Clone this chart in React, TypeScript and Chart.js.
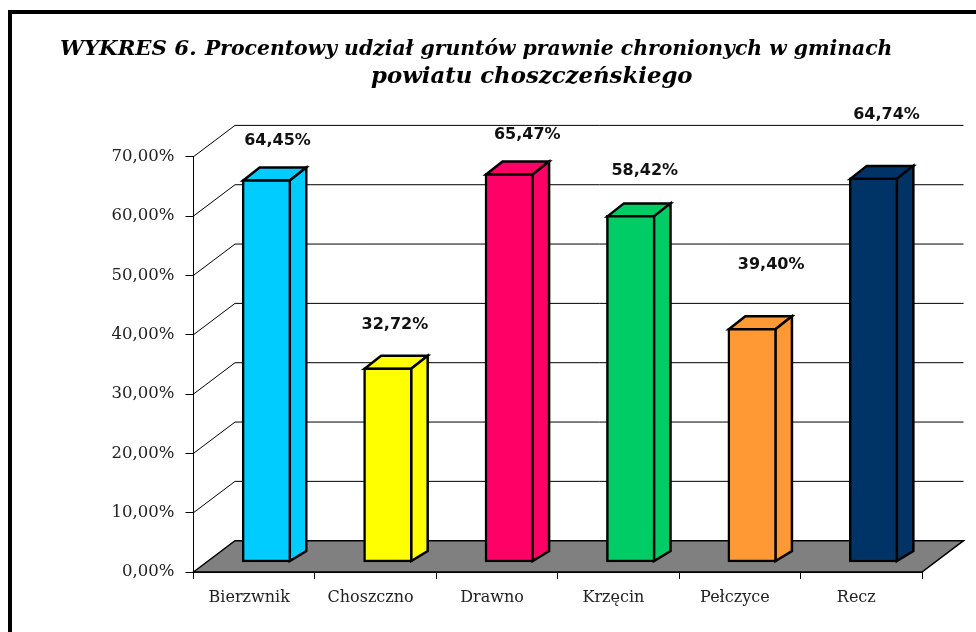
import React, { useEffect, useRef } from "react";
import { Chart, registerables } from "chart.js";

Chart.register(...registerables);

const categories = ["Bierzwnik", "Choszczno", "Drawno", "Krzęcin", "Pełczyce", "Recz"];
const percentages = [64.45, 32.72, 65.47, 58.42, 39.4, 64.74];
const barColors = ["#00CCFF", "#FFFF00", "#FF0066", "#00CC66", "#FF9933", "#003366"];
const titleLead = "WYKRES 6.";
const titleRest = "Procentowy udział gruntów prawnie chronionych w gminach";
const titleSecond = "powiatu choszczeńskiego";

const WALL_DX = 41.5;
const WALL_DY = 31.3;
const BAR_DX = 16.5;
const BAR_DY = 13;
const labelNudgeX = [11, 7, 18, 14, 19, 13];
const labelNudgeY = [-39, -43, -39, -45, -63, -63];

const fmt = (v: number) => v.toFixed(2).replace(".", ",") + "%";

const scene = {
  id: "scene",
  beforeDatasetsDraw(chart: any) {
    const { ctx } = chart;
    const y = chart.scales.y;
    const x = chart.scales.x;
    const L = x.left;
    const R = x.right;
    ctx.save();
    ctx.strokeStyle = "#000";
    ctx.lineWidth = 1;
    y.ticks.forEach((t: any) => {
      if (t.value === 0) return;
      const py = y.getPixelForValue(t.value);
      ctx.beginPath();
      ctx.moveTo(L, py);
      ctx.lineTo(L + WALL_DX, py - WALL_DY);
      ctx.lineTo(R + WALL_DX, py - WALL_DY);
      ctx.stroke();
    });
    const fy = y.getPixelForValue(0);
    ctx.beginPath();
    ctx.moveTo(L, fy);
    ctx.lineTo(L + WALL_DX, fy - WALL_DY);
    ctx.lineTo(R + WALL_DX, fy - WALL_DY);
    ctx.lineTo(R, fy);
    ctx.closePath();
    ctx.fillStyle = "#808080";
    ctx.fill();
    ctx.lineWidth = 1.5;
    ctx.stroke();

    ctx.lineWidth = 2.5;
    ctx.lineJoin = "miter";
    chart.getDatasetMeta(0).data.forEach((bar: any, i: number) => {
      const { x: cx, y: top, base, width } = bar.getProps(["x", "y", "base", "width"], true);
      const l = cx - width / 2 + 1;
      const r = cx + width / 2 - 1;
      ctx.fillStyle = barColors[i];
      ctx.beginPath();
      ctx.moveTo(l, top + 1);
      ctx.lineTo(l + BAR_DX, top + 1 - BAR_DY);
      ctx.lineTo(r + BAR_DX, top + 1 - BAR_DY);
      ctx.lineTo(r, top + 1);
      ctx.closePath();
      ctx.fill();
      ctx.stroke();
      ctx.beginPath();
      ctx.moveTo(r, top + 1);
      ctx.lineTo(r + BAR_DX, top + 1 - BAR_DY);
      ctx.lineTo(r + BAR_DX, base - BAR_DY + 2);
      ctx.lineTo(r, base - 1);
      ctx.closePath();
      ctx.fill();
      ctx.stroke();
    });
    ctx.restore();
  },
  afterDatasetsDraw(chart: any) {
    const { ctx } = chart;
    ctx.save();
    ctx.fillStyle = "#111";
    ctx.font = 'bold 16px "DejaVu Sans"';
    ctx.textAlign = "center";
    ctx.textBaseline = "middle";
    chart.getDatasetMeta(0).data.forEach((bar: any, i: number) => {
      ctx.fillText(fmt(percentages[i]), bar.x + labelNudgeX[i], bar.y + labelNudgeY[i]);
    });
    const y = chart.scales.y;
    ctx.strokeStyle = "#000";
    ctx.lineWidth = 1;
    ctx.beginPath();
    ctx.moveTo(Math.floor(y.right) + 0.5, y.top);
    ctx.lineTo(Math.floor(y.right) + 0.5, y.bottom);
    ctx.stroke();
    ctx.restore();
  },
  afterDraw(chart: any) {
    const { ctx } = chart;
    ctx.save();
    ctx.fillStyle = "#000";
    ctx.textAlign = "left";
    ctx.textBaseline = "alphabetic";
    ctx.font = 'italic bold 21.3px "DejaVu Serif"';
    ctx.fillText(titleLead, 60, 55);
    ctx.font = 'italic bold 20.35px "DejaVu Serif"';
    ctx.fillText(titleRest, 205, 55);
    ctx.font = 'italic bold 22.8px "DejaVu Serif"';
    ctx.fillText(titleSecond, 371, 83);
    ctx.restore();
  },
};

export default function App() {
  const ref = useRef<HTMLCanvasElement>(null);
  useEffect(() => {
    const chart = new Chart(ref.current!, {
      type: "bar",
      data: {
        labels: categories,
        datasets: [
          {
            data: percentages.map((v, i) => ({ x: i + 0.5, y: v })) as any,
            backgroundColor: barColors,
            borderColor: "#000",
            borderWidth: 2.5,
            borderSkipped: false,
            xAxisID: "xBar",
            yAxisID: "yBar",
            barThickness: 48.6,
            clip: false,
          } as any,
        ],
      },
      plugins: [scene],
      options: {
        responsive: false,
        animation: false,
        devicePixelRatio: 1,
        layout: { padding: { left: 0, right: 54, top: 156.7, bottom: 0 } },
        plugins: { legend: { display: false }, title: { display: false }, tooltip: { enabled: false } },
        scales: {
          x: {
            type: "category",
            offset: true,
            afterFit: (s: any) => { s.height = 60; },
            grid: { offset: true, drawOnChartArea: false, drawTicks: true, tickLength: 7, color: "#000" },
            border: { color: "#000", width: 1 },
            ticks: { color: "#222", padding: 9, maxRotation: 0, labelOffset: -5, font: { family: "DejaVu Serif", size: 16 } },
          },
          y: {
            min: 0,
            max: 70,
            afterFit: (s: any) => { s.width = 193.5; },
            grid: { drawOnChartArea: false, drawTicks: true, tickLength: 8, color: "#000" },
            border: { color: "#000", width: 1 },
            ticks: { stepSize: 10, color: "#222", padding: 11, callback: (v: any) => fmt(Number(v)), font: { family: "DejaVu Serif", size: 16.5 } },
          },
          xBar: { type: "linear", axis: "x", display: false, offset: false, min: -0.101, max: 5.899 },
          yBar: { type: "linear", axis: "y", display: false, min: -1.69, max: 68.31 },
        } as any,
      },
    });
    return () => chart.destroy();
  }, []);
  return (
    <div style={{ position: "fixed", inset: 0, overflow: "hidden", background: "#fff" }}>
      <canvas ref={ref} width={976} height={632} style={{ position: "absolute", left: 0, top: 0, display: "block" }} />
      <div style={{ position: "absolute", left: 8, top: 10, width: 2000, height: 2000, borderLeft: "4px solid #000", borderTop: "4px solid #000" }} />
    </div>
  );
}
